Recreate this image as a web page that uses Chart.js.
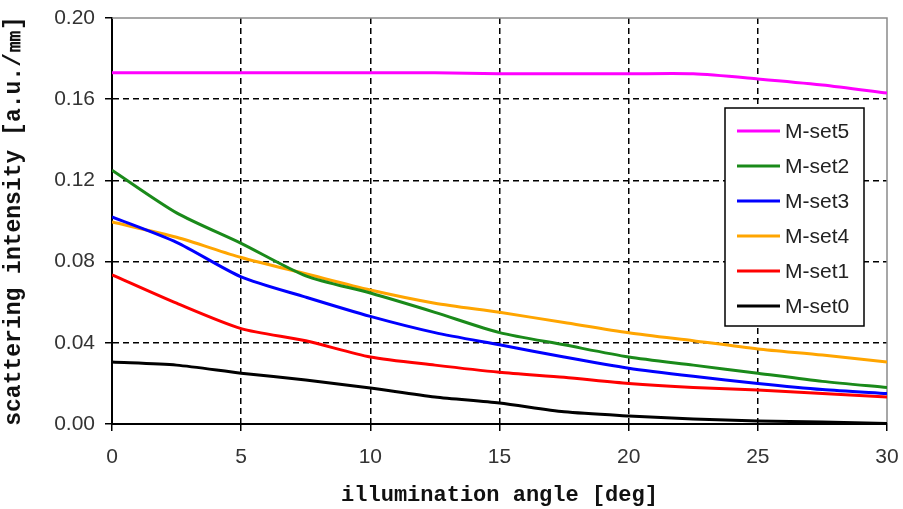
<!DOCTYPE html>
<html>
<head>
<meta charset="utf-8">
<script src="https://cdn.jsdelivr.net/npm/chart.js@4/dist/chart.umd.min.js"></script>
<style>
  html, body { margin: 0; padding: 0; background: #fff; }
  #wrap { width: 903px; height: 509px; }
</style>
</head>
<body>
<div id="wrap"><canvas id="chart" width="903" height="509"></canvas></div>
<script>
// illumination angle [deg]
const angles = [0, 2.5, 5, 7.5, 10, 12.5, 15, 17.5, 20, 22.5, 25, 27.5, 30];

const mset5 = [0.173, 0.173, 0.173, 0.173, 0.173, 0.173, 0.1725, 0.1725, 0.1725, 0.1725, 0.170, 0.167, 0.163];
const mset2 = [0.125, 0.104, 0.089, 0.073, 0.0645, 0.055, 0.045, 0.039, 0.033, 0.029, 0.025, 0.021, 0.018];
const mset3 = [0.102, 0.0895, 0.0725, 0.0625, 0.053, 0.045, 0.039, 0.033, 0.0275, 0.0235, 0.020, 0.017, 0.015];
const mset4 = [0.0995, 0.092, 0.082, 0.074, 0.066, 0.0595, 0.055, 0.050, 0.045, 0.041, 0.037, 0.034, 0.0305];
const mset1 = [0.0735, 0.0595, 0.047, 0.041, 0.033, 0.029, 0.0255, 0.023, 0.020, 0.018, 0.0167, 0.015, 0.0133];
const mset0 = [0.0305, 0.029, 0.025, 0.0217, 0.0177, 0.0133, 0.0103, 0.006, 0.004, 0.0025, 0.0015, 0.001, 0.0003];

const seriesNames = ['M-set5', 'M-set2', 'M-set3', 'M-set4', 'M-set1', 'M-set0'];
const seriesData = [mset5, mset2, mset3, mset4, mset1, mset0];
const seriesColors = ['#ff00ff', '#1a8a1a', '#0000ff', '#ffa500', '#ff0000', '#000000'];

const xTicks = [0, 5, 10, 15, 20, 25, 30];
const yTicks = [0, 0.04, 0.08, 0.12, 0.16, 0.20];

const datasets = seriesNames.map((name, i) => ({
    label: name,
    data: angles.map((a, j) => ({ x: a, y: seriesData[i][j] })),
    borderColor: seriesColors[i],
    borderWidth: 3,
    pointRadius: 0,
    tension: 0.25,
    fill: false
}));

// solid gray frame on top/right of the plot
const framePlugin = {
    id: 'frame',
    beforeDatasetsDraw(chart) {
        const { ctx, chartArea: a } = chart;
        ctx.save();
        ctx.strokeStyle = '#8a8a8a';
        ctx.lineWidth = 1.5;
        ctx.beginPath();
        ctx.moveTo(a.left, a.top);
        ctx.lineTo(a.right, a.top);
        ctx.lineTo(a.right, a.bottom);
        ctx.stroke();
        ctx.restore();
    }
};

// boxed legend inside the plot area
const boxLegend = {
    id: 'boxLegend',
    afterDatasetsDraw(chart) {
        const { ctx, chartArea: a } = chart;
        const left = a.right - 162, top = a.top + 90, w = 139, h = 218;
        ctx.save();
        ctx.fillStyle = '#fff';
        ctx.fillRect(left, top, w, h);
        ctx.strokeStyle = '#000';
        ctx.lineWidth = 1.5;
        ctx.strokeRect(left, top, w, h);
        ctx.font = '21px "Liberation Sans", Arial, sans-serif';
        ctx.textBaseline = 'middle';
        ctx.fillStyle = '#222';
        seriesNames.forEach((name, i) => {
            const y = top + 23 + i * 35;
            ctx.strokeStyle = seriesColors[i];
            ctx.lineWidth = 3;
            ctx.beginPath();
            ctx.moveTo(left + 12, y);
            ctx.lineTo(left + 55, y);
            ctx.stroke();
            ctx.fillText(name, left + 60, y + 1);
        });
        ctx.restore();
    }
};

const gridOpts = (edges) => ({
    color: (c) => (c.tick && edges.includes(c.tick.value)) ? 'rgba(0,0,0,0)' : '#000',
    lineWidth: 1.5,
    tickColor: '#000',
    tickLength: 7,
    tickBorderDash: []
});

new Chart(document.getElementById('chart'), {
    type: 'line',
    data: { datasets },
    options: {
        responsive: false,
        animation: false,
        layout: { padding: { top: 18, right: 16, left: 0, bottom: 0 } },
        plugins: { legend: { display: false }, tooltip: { enabled: false } },
        scales: {
            x: {
                type: 'linear',
                min: 0,
                max: 30,
                afterBuildTicks: (s) => { s.ticks = xTicks.map(v => ({ value: v })); },
                ticks: {
                    color: '#333',
                    font: { family: '"Liberation Sans", Arial, sans-serif', size: 21 },
                    padding: 14,
                    maxRotation: 0
                },
                grid: gridOpts([0, 30]),
                border: { display: true, color: '#000', width: 2, dash: [6, 4] },
                title: {
                    display: true,
                    text: 'illumination angle [deg]',
                    color: '#111',
                    font: { family: '"Liberation Mono", "Courier New", monospace', size: 22, weight: 'bold' },
                    padding: { top: 4, bottom: 0 }
                },
                afterFit: (s) => { s.height = 85; s.paddingLeft = 0; s.paddingRight = 0; }
            },
            y: {
                min: 0,
                max: 0.2,
                afterBuildTicks: (s) => { s.ticks = yTicks.map(v => ({ value: v })); },
                ticks: {
                    color: '#333',
                    font: { family: '"Liberation Sans", Arial, sans-serif', size: 21 },
                    padding: 10,
                    callback: (v) => v.toFixed(2)
                },
                grid: gridOpts([0, 0.2]),
                border: { display: true, color: '#000', width: 2, dash: [6, 4] },
                title: {
                    display: true,
                    text: 'scattering intensity [a.u./㎜]',
                    color: '#111',
                    font: { family: '"Liberation Mono", "Courier New", monospace', size: 23, weight: 'bold' },
                    padding: { top: 0, bottom: 6 }
                },
                afterFit: (s) => { s.width = 112; s.paddingTop = 0; s.paddingBottom = 0; }
            }
        }
    },
    plugins: [framePlugin, boxLegend]
});
</script>
</body>
</html>
